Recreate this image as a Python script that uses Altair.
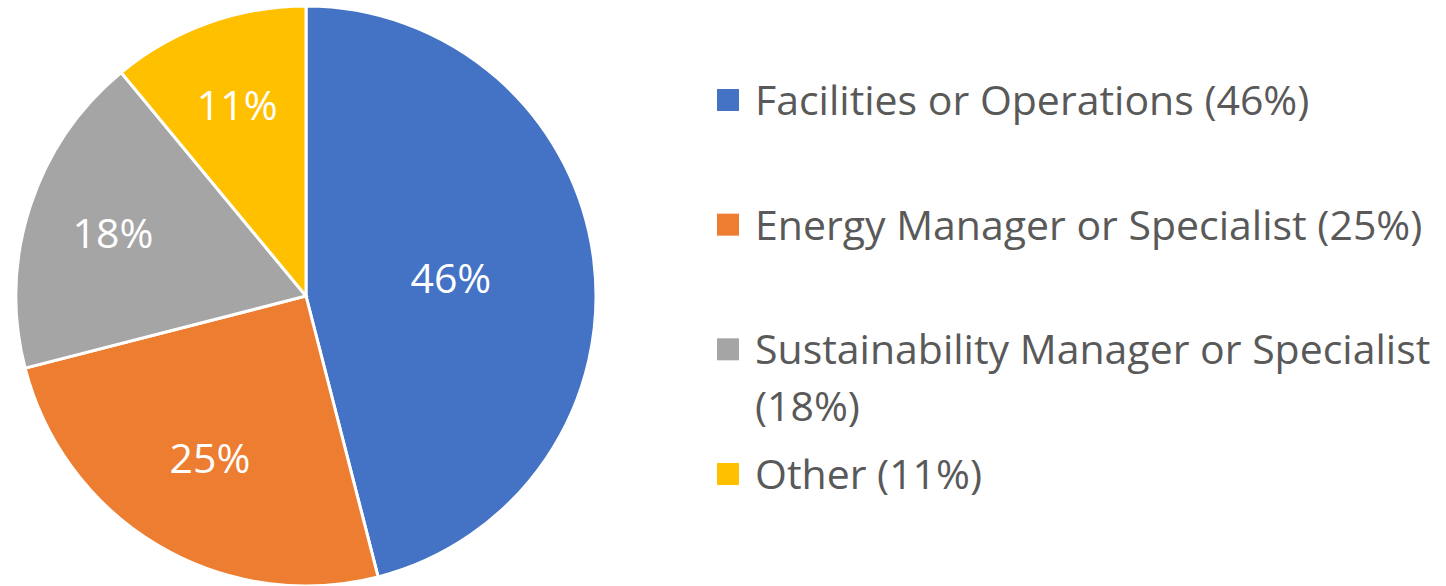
import altair as alt
import pandas as pd

categories = [
    "Facilities or Operations",
    "Energy Manager or Specialist",
    "Sustainability Manager or Specialist",
    "Other",
]
values = [46, 25, 18, 11]
slice_labels = ["46%", "25%", "18%", "11%"]
legend_labels = [
    "Facilities or Operations (46%)",
    "Energy Manager or Specialist (25%)",
    "Sustainability Manager or Specialist\n(18%)",
    "Other (11%)",
]
colors = ["#4472C4", "#ED7D31", "#A5A5A5", "#FFC000"]

FONT = "Open Sans"
FS = 41

df = pd.DataFrame({
    "category": categories,
    "value": values,
    "label": slice_labels,
    "legend": legend_labels,
    "idx": list(range(len(categories))),
})

color_scale = alt.Scale(domain=categories, range=colors)
cx, cy, R = 306, 296, 290

base = alt.Chart(df)

arc = base.mark_arc(radius=R, stroke="white", strokeWidth=3).encode(
    theta=alt.Theta("value:Q", stack=True),
    color=alt.Color("category:N", scale=color_scale, legend=None),
    order=alt.Order("idx:Q"),
    x=alt.value(cx),
    y=alt.value(cy),
)

labels = base.mark_text(
    font=FONT, fontSize=FS, color="white", baseline="alphabetic", dy=15
).encode(
    theta=alt.Theta("value:Q", stack=True),
    radius=alt.Radius(
        "value:Q",
        scale=alt.Scale(type="linear", domain=[18, 46], range=[203, 146], clamp=True, zero=False),
    ),
    text="label:N",
    order=alt.Order("idx:Q"),
    x=alt.value(cx),
    y=alt.value(cy),
)

yscale = alt.Scale(type="point", domain=categories, range=[100, 474], padding=0)

squares = base.mark_square(size=484, opacity=1).encode(
    x=alt.value(728),
    y=alt.Y("category:N", scale=yscale, axis=None),
    color=alt.Color("category:N", scale=color_scale, legend=None),
)

legend_text = base.mark_text(
    font=FONT, fontSize=FS, color="#595959", align="left",
    baseline="alphabetic", dy=15, lineBreak="\n", lineHeight=57,
).encode(
    x=alt.value(755),
    y=alt.Y("category:N", scale=yscale, axis=None),
    text="legend:N",
)

chart = (
    alt.layer(arc, labels, squares, legend_text)
    .properties(width=1446, height=586, autosize=alt.AutoSizeParams(type="none"), padding=0, background="white")
    .configure_view(stroke=None)
)

chart.save("out.html", embed_options={"renderer": "svg", "actions": False})
